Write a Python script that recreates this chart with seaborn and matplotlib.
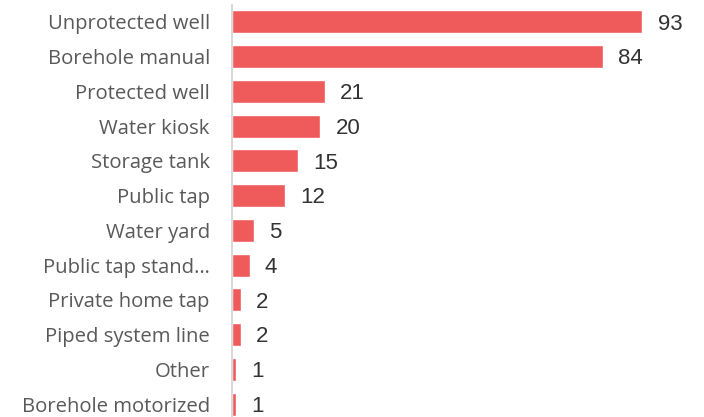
import matplotlib
matplotlib.use("Agg")
import matplotlib.pyplot as plt
import seaborn as sns
import pandas as pd

categories = [
    "Unprotected well", "Borehole manual", "Protected well", "Water kiosk",
    "Storage tank", "Public tap", "Water yard", "Public tap stand…",
    "Private home tap", "Piped system line", "Other", "Borehole motorized",
]
counts = [93, 84, 21, 20, 15, 12, 5, 4, 2, 2, 1, 1]

df = pd.DataFrame({"source": categories, "count": counts})

sns.set_theme(style="white")
plt.rcParams["font.family"] = ["Open Sans", "DejaVu Sans"]

fig = plt.figure(figsize=(7.04, 4.17), dpi=100)
ax = fig.add_axes([232 / 704, -0.011, 472 / 704, 1.0])

sns.barplot(data=df, x="count", y="source", orient="h", color="#EF5A5B",
            saturation=1, width=0.66, ax=ax)

ax.set_xlim(0, 107)
ax.set_ylim(len(categories) - 0.5, -0.5)
ax.set_xlabel("")
ax.set_ylabel("")
ax.set_xticks([])
for side in ("top", "right", "bottom"):
    ax.spines[side].set_visible(False)
ax.spines["left"].set_color("#d9d9d9")
ax.spines["left"].set_linewidth(1.5)
ax.tick_params(axis="y", length=0, pad=16, labelsize=14.6, labelcolor="#595959")

for container in ax.containers:
    labels = ax.bar_label(container, labels=[str(v) for v in counts], padding=11,
                          fontsize=16, color="#333333", family="Liberation Sans")
    for ann in labels:
        ann.xyann = (11, -1.5)

fig.savefig("out.png", dpi=100)
